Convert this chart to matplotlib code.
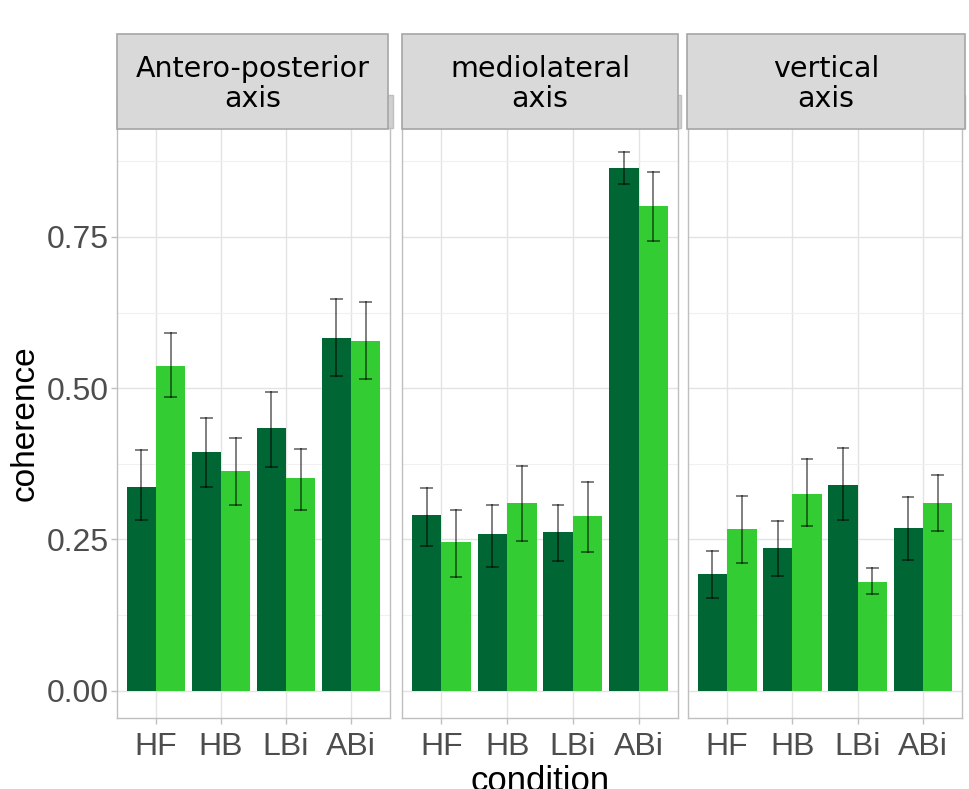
import matplotlib
matplotlib.use("Agg")
import matplotlib.pyplot as plt
import numpy as np
from matplotlib.patches import Rectangle

# --- Data ---
conditions = ["HF", "HB", "LBi", "ABi"]
panel_titles = ["Antero-posterior\naxis", "mediolateral\naxis", "vertical\naxis"]

# dark / light series per panel: mean, lower, upper
ap_dark = [0.337, 0.395, 0.435, 0.583]
ap_dark_lo = [0.283, 0.337, 0.370, 0.520]
ap_dark_hi = [0.398, 0.451, 0.494, 0.648]
ap_light = [0.537, 0.363, 0.352, 0.578]
ap_light_lo = [0.486, 0.307, 0.299, 0.516]
ap_light_hi = [0.592, 0.418, 0.400, 0.643]

ml_dark = [0.291, 0.259, 0.263, 0.864]
ml_dark_lo = [0.240, 0.205, 0.215, 0.838]
ml_dark_hi = [0.335, 0.307, 0.307, 0.890]
ml_light = [0.246, 0.311, 0.288, 0.801]
ml_light_lo = [0.188, 0.248, 0.230, 0.743]
ml_light_hi = [0.299, 0.372, 0.345, 0.857]

v_dark = [0.193, 0.236, 0.340, 0.269]
v_dark_lo = [0.154, 0.190, 0.283, 0.216]
v_dark_hi = [0.231, 0.281, 0.402, 0.321]
v_light = [0.268, 0.325, 0.180, 0.310]
v_light_lo = [0.211, 0.273, 0.160, 0.264]
v_light_hi = [0.322, 0.383, 0.203, 0.357]

panels = [
    (ap_dark, ap_dark_lo, ap_dark_hi, ap_light, ap_light_lo, ap_light_hi),
    (ml_dark, ml_dark_lo, ml_dark_hi, ml_light, ml_light_lo, ml_light_hi),
    (v_dark, v_dark_lo, v_dark_hi, v_light, v_light_lo, v_light_hi),
]

dark_col = "#006633"
light_col = "#33CC33"
tick_font = ["Liberation Sans", "DejaVu Sans"]

W, H = 969, 789
fig = plt.figure(figsize=(W / 100, H / 100), dpi=100)

# panel pixel extents (left, right), common top/bottom
panel_x = [(117, 390), (402, 678), (688, 962)]
box_x = [(117, 388), (402, 678), (687, 965)]
top_px, bot_px = 128, 718


def fx(px):
    return px / W


def fy(py):
    return 1 - py / H


x = np.arange(1, len(conditions) + 1)
bw = 0.45

for i, (l, r) in enumerate(panel_x):
    ax = fig.add_axes([fx(l), fy(bot_px), fx(r - l), (bot_px - top_px) / H])
    d, dlo, dhi, lt, llo, lhi = panels[i]
    ax.bar(x - bw / 2, d, width=bw, color=dark_col, zorder=2)
    ax.bar(x + bw / 2, lt, width=bw, color=light_col, zorder=2)
    for xs, lo, hi in [(x - bw / 2, dlo, dhi), (x + bw / 2, llo, lhi)]:
        for xi, a, b in zip(xs, lo, hi):
            ax.plot([xi, xi], [a, b], color="black", alpha=0.5, lw=1.4, zorder=3)
            for yv in (a, b):
                ax.plot([xi - 0.08, xi + 0.08], [yv, yv], color="black",
                        alpha=0.5, lw=1.4, zorder=3)

    ax.set_xlim(0.4, 4.6)
    ax.set_ylim(-0.045, 0.93)
    ax.set_xticks(x)
    ax.set_xticklabels(conditions)
    ax.set_yticks([0, 0.25, 0.5, 0.75])
    ax.set_yticks([0.125, 0.375, 0.625, 0.875], minor=True)
    ax.set_yticklabels(["0.00", "0.25", "0.50", "0.75"])
    ax.grid(True, which="major", color="#E3E3E3", lw=1.0, zorder=0)
    ax.grid(True, which="minor", axis="y", color="#F0F0F0", lw=0.8, zorder=0)
    ax.set_axisbelow(True)
    for s in ax.spines.values():
        s.set_color("#BFBFBF")
        s.set_linewidth(1.0)
    ax.tick_params(axis="both", which="major", colors="#BFBFBF", length=4,
                   width=1.0, labelcolor="#4D4D4D", labelsize=23)
    ax.tick_params(axis="x", which="major", pad=6)
    ax.tick_params(axis="y", which="major", pad=2)
    ax.tick_params(axis="both", which="minor", length=0)
    for lab in ax.get_xticklabels() + ax.get_yticklabels():
        lab.set_family(tick_font)
    if i > 0:
        ax.tick_params(axis="y", left=False, labelleft=False)
    else:
        ax.set_ylabel("coherence", fontsize=24, family=tick_font, labelpad=4)

    # original facet strip (behind) and the overlaid label box
    fig.patches.append(Rectangle((fx(l), fy(128)), fx(r - l + 3), 33 / H,
                                 transform=fig.transFigure, facecolor="#D0D0D0",
                                 edgecolor="#BFBFBF", lw=1.0, zorder=1))
    bl, br = box_x[i]
    fig.patches.append(Rectangle((fx(bl), fy(129)), fx(br - bl), 95 / H,
                                 transform=fig.transFigure, facecolor="#D9D9D9",
                                 edgecolor="#A6A6A6", lw=1.2, zorder=2))
    fig.text(fx((bl + br) / 2), fy(84), panel_titles[i], ha="center",
             va="center", fontsize=20.5, color="black", linespacing=1.12,
             family="DejaVu Sans", zorder=3)

fig.text(fx(540), fy(765), "condition", ha="center", va="top",
         fontsize=25, family=tick_font, color="black")

fig.savefig("out.png", dpi=100)
